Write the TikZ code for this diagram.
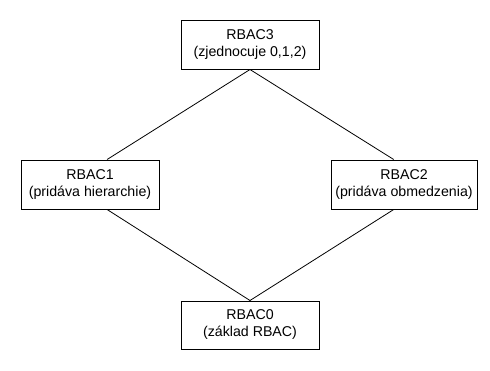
\documentclass[tikz,border=0pt]{standalone}
\usepackage{fontspec}
\setmainfont{Liberation Sans}
\usetikzlibrary{calc}
\begin{document}
\begin{tikzpicture}[x=1pt,y=-1pt,
  level/.style={draw=black,line width=1pt,fill=white,align=center,
    inner sep=0pt,minimum height=49pt,
    font=\fontsize{14.2pt}{17pt}\selectfont},
  link/.style={draw=black,line width=0.8pt}]
  % page frame
  \useasboundingbox (0,0) rectangle (490,370);

  % RBAC levels
  \node[level,minimum width=138pt] (r3) at (250,44.5) {RBAC3\\(zjednocuje 0,1,2)};
  \node[level,minimum width=138pt] (r1) at (90,184.5) {RBAC1\\(pridáva hierarchie)};
  \node[level,minimum width=146pt] (r2) at (404,184.5) {RBAC2\\(pridáva obmedzenia)};
  \node[level,minimum width=138pt,minimum height=48pt] (r0) at (250,325) {RBAC0\\(základ RBAC)};

  % inheritance lattice
  \draw[link] (r3.south) -- ($(r1.north west)!0.623!(r1.north east)$);
  \draw[link] (r3.south) -- ($(r2.north west)!0.43!(r2.north east)$);
  \draw[link] ($(r1.south west)!0.623!(r1.south east)$) -- (r0.north);
  \draw[link] ($(r2.south west)!0.43!(r2.south east)$) -- (r0.north);
\end{tikzpicture}
\end{document}
